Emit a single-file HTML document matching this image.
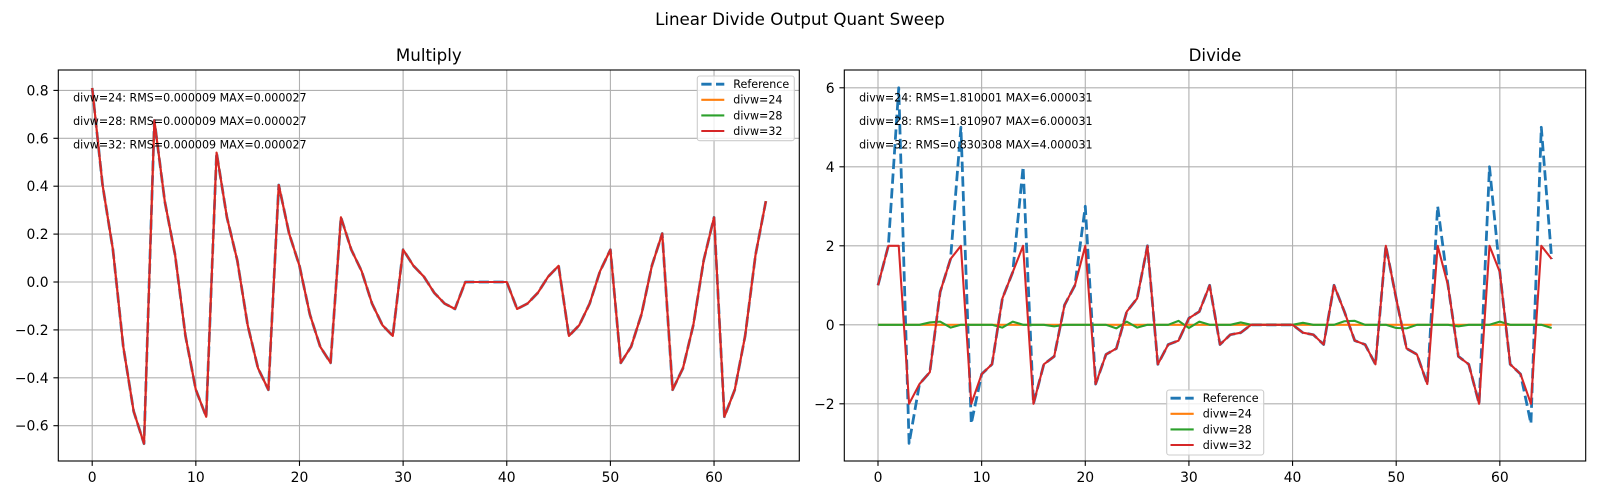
<!DOCTYPE html>
<html><head><meta charset="utf-8"><style>
html,body{margin:0;padding:0;background:#fff;}
svg{display:block;}
text{font-family:"DejaVu Sans","Liberation Sans",sans-serif;fill:#000;}
.tk{font-size:13.89px;}
.an{font-size:11.1px;}
.lg{font-size:11.1px;}
.ttl{font-size:16.67px;}
</style></head><body>
<svg width="1600" height="500" viewBox="0 0 1600 500" xmlns="http://www.w3.org/2000/svg">
<rect width="1600" height="500" fill="#fff"/>
<text class="ttl" x="800" y="25" text-anchor="middle">Linear Divide Output Quant Sweep</text>

<!-- ===== LEFT: Multiply ===== -->
<text class="ttl" x="428.8" y="61" text-anchor="middle">Multiply</text>
<g stroke="#b0b0b0" stroke-width="1.1" fill="none">
<line x1="92.2" y1="70" x2="92.2" y2="461"/>
<line x1="195.84" y1="70" x2="195.84" y2="461"/>
<line x1="299.48" y1="70" x2="299.48" y2="461"/>
<line x1="403.12" y1="70" x2="403.12" y2="461"/>
<line x1="506.76" y1="70" x2="506.76" y2="461"/>
<line x1="610.4" y1="70" x2="610.4" y2="461"/>
<line x1="714.04" y1="70" x2="714.04" y2="461"/>
<line x1="58.3" y1="90.4" x2="799.3" y2="90.4"/>
<line x1="58.3" y1="138.3" x2="799.3" y2="138.3"/>
<line x1="58.3" y1="186.2" x2="799.3" y2="186.2"/>
<line x1="58.3" y1="234.1" x2="799.3" y2="234.1"/>
<line x1="58.3" y1="282" x2="799.3" y2="282"/>
<line x1="58.3" y1="329.9" x2="799.3" y2="329.9"/>
<line x1="58.3" y1="377.8" x2="799.3" y2="377.8"/>
<line x1="58.3" y1="425.7" x2="799.3" y2="425.7"/>
</g>
<g fill="none" stroke-linejoin="round">
<polyline id="mul" stroke="#1f77b4" stroke-width="2.78" stroke-dasharray="10.28 4.44" points="92.2,88 102.56,185 112.93,249.67 123.29,346.67 133.66,411.33 144.02,443.66 154.38,120.34 164.75,201.17 175.11,255.06 185.48,335.89 195.84,389.78 206.2,416.72 216.57,152.67 226.93,217.33 237.3,260.44 247.66,325.11 258.02,368.22 268.39,389.78 278.75,185 289.12,233.5 299.48,265.83 309.84,314.33 320.21,346.67 330.57,362.83 340.94,217.33 351.3,249.67 361.66,271.22 372.03,303.56 382.39,325.11 392.76,335.89 403.12,249.67 413.48,265.83 423.85,276.61 434.21,292.78 444.58,303.56 454.94,308.94 465.3,282 475.67,282 486.03,282 496.4,282 506.76,282 517.12,308.94 527.49,303.56 537.85,292.78 548.22,276.61 558.58,265.83 568.94,335.89 579.31,325.11 589.67,303.56 600.04,271.22 610.4,249.67 620.76,362.83 631.13,346.67 641.49,314.33 651.86,265.83 662.22,233.5 672.58,389.78 682.95,368.22 693.31,325.11 703.68,260.44 714.04,217.33 724.4,416.72 734.77,389.78 745.13,335.89 755.5,255.06 765.86,201.17"/>
<polyline stroke="#ff7f0e" stroke-width="2.08" points="92.2,88 102.56,185 112.93,249.67 123.29,346.67 133.66,411.33 144.02,443.66 154.38,120.34 164.75,201.17 175.11,255.06 185.48,335.89 195.84,389.78 206.2,416.72 216.57,152.67 226.93,217.33 237.3,260.44 247.66,325.11 258.02,368.22 268.39,389.78 278.75,185 289.12,233.5 299.48,265.83 309.84,314.33 320.21,346.67 330.57,362.83 340.94,217.33 351.3,249.67 361.66,271.22 372.03,303.56 382.39,325.11 392.76,335.89 403.12,249.67 413.48,265.83 423.85,276.61 434.21,292.78 444.58,303.56 454.94,308.94 465.3,282 475.67,282 486.03,282 496.4,282 506.76,282 517.12,308.94 527.49,303.56 537.85,292.78 548.22,276.61 558.58,265.83 568.94,335.89 579.31,325.11 589.67,303.56 600.04,271.22 610.4,249.67 620.76,362.83 631.13,346.67 641.49,314.33 651.86,265.83 662.22,233.5 672.58,389.78 682.95,368.22 693.31,325.11 703.68,260.44 714.04,217.33 724.4,416.72 734.77,389.78 745.13,335.89 755.5,255.06 765.86,201.17"/>
<polyline stroke="#d62728" stroke-width="2.08" points="92.2,88 102.56,185 112.93,249.67 123.29,346.67 133.66,411.33 144.02,443.66 154.38,120.34 164.75,201.17 175.11,255.06 185.48,335.89 195.84,389.78 206.2,416.72 216.57,152.67 226.93,217.33 237.3,260.44 247.66,325.11 258.02,368.22 268.39,389.78 278.75,185 289.12,233.5 299.48,265.83 309.84,314.33 320.21,346.67 330.57,362.83 340.94,217.33 351.3,249.67 361.66,271.22 372.03,303.56 382.39,325.11 392.76,335.89 403.12,249.67 413.48,265.83 423.85,276.61 434.21,292.78 444.58,303.56 454.94,308.94 465.3,282 475.67,282 486.03,282 496.4,282 506.76,282 517.12,308.94 527.49,303.56 537.85,292.78 548.22,276.61 558.58,265.83 568.94,335.89 579.31,325.11 589.67,303.56 600.04,271.22 610.4,249.67 620.76,362.83 631.13,346.67 641.49,314.33 651.86,265.83 662.22,233.5 672.58,389.78 682.95,368.22 693.31,325.11 703.68,260.44 714.04,217.33 724.4,416.72 734.77,389.78 745.13,335.89 755.5,255.06 765.86,201.17"/>
</g>
<rect x="58.3" y="70" width="741" height="391" fill="none" stroke="#000" stroke-width="1.1"/>
<g stroke="#000" stroke-width="1.1">
<line x1="92.2" y1="461" x2="92.2" y2="465.9"/>
<line x1="195.84" y1="461" x2="195.84" y2="465.9"/>
<line x1="299.48" y1="461" x2="299.48" y2="465.9"/>
<line x1="403.12" y1="461" x2="403.12" y2="465.9"/>
<line x1="506.76" y1="461" x2="506.76" y2="465.9"/>
<line x1="610.4" y1="461" x2="610.4" y2="465.9"/>
<line x1="714.04" y1="461" x2="714.04" y2="465.9"/>
<line x1="53.4" y1="90.4" x2="58.3" y2="90.4"/>
<line x1="53.4" y1="138.3" x2="58.3" y2="138.3"/>
<line x1="53.4" y1="186.2" x2="58.3" y2="186.2"/>
<line x1="53.4" y1="234.1" x2="58.3" y2="234.1"/>
<line x1="53.4" y1="282" x2="58.3" y2="282"/>
<line x1="53.4" y1="329.9" x2="58.3" y2="329.9"/>
<line x1="53.4" y1="377.8" x2="58.3" y2="377.8"/>
<line x1="53.4" y1="425.7" x2="58.3" y2="425.7"/>
</g>
<g class="tk" text-anchor="middle">
<text class="tk" x="92.2" y="482">0</text>
<text class="tk" x="195.84" y="482">10</text>
<text class="tk" x="299.48" y="482">20</text>
<text class="tk" x="403.12" y="482">30</text>
<text class="tk" x="506.76" y="482">40</text>
<text class="tk" x="610.4" y="482">50</text>
<text class="tk" x="714.04" y="482">60</text>
</g>
<g text-anchor="end">
<text class="tk" x="48.6" y="95.4">0.8</text>
<text class="tk" x="48.6" y="143.3">0.6</text>
<text class="tk" x="48.6" y="191.2">0.4</text>
<text class="tk" x="48.6" y="239.1">0.2</text>
<text class="tk" x="48.6" y="287">0.0</text>
<text class="tk" x="48.6" y="334.9">−0.2</text>
<text class="tk" x="48.6" y="382.8">−0.4</text>
<text class="tk" x="48.6" y="430.7">−0.6</text>
</g>
<text class="an" x="73.1" y="101.7">divw=24: RMS=0.000009 MAX=0.000027</text>
<text class="an" x="73.1" y="125">divw=28: RMS=0.000009 MAX=0.000027</text>
<text class="an" x="73.1" y="148.3">divw=32: RMS=0.000009 MAX=0.000027</text>
<!-- legend left -->
<rect x="697.3" y="76" width="97" height="64.7" rx="2.5" fill="#fff" fill-opacity="0.8" stroke="#cccccc" stroke-width="1.1"/>
<line x1="701.3" y1="84.2" x2="724.3" y2="84.2" stroke="#1f77b4" stroke-width="2.78" stroke-dasharray="10.28 4.44"/>
<line x1="701.3" y1="99.8" x2="724.3" y2="99.8" stroke="#ff7f0e" stroke-width="2.08"/>
<line x1="701.3" y1="115.4" x2="724.3" y2="115.4" stroke="#2ca02c" stroke-width="2.08"/>
<line x1="701.3" y1="131" x2="724.3" y2="131" stroke="#d62728" stroke-width="2.08"/>
<text class="lg" x="733.3" y="88.1">Reference</text>
<text class="lg" x="733.3" y="103.7">divw=24</text>
<text class="lg" x="733.3" y="119.3">divw=28</text>
<text class="lg" x="733.3" y="134.9">divw=32</text>

<!-- ===== RIGHT: Divide ===== -->
<text class="ttl" x="1215" y="61" text-anchor="middle">Divide</text>
<g stroke="#b0b0b0" stroke-width="1.1" fill="none">
<line x1="878" y1="70" x2="878" y2="461"/>
<line x1="981.64" y1="70" x2="981.64" y2="461"/>
<line x1="1085.28" y1="70" x2="1085.28" y2="461"/>
<line x1="1188.92" y1="70" x2="1188.92" y2="461"/>
<line x1="1292.56" y1="70" x2="1292.56" y2="461"/>
<line x1="1396.2" y1="70" x2="1396.2" y2="461"/>
<line x1="1499.84" y1="70" x2="1499.84" y2="461"/>
<line x1="844.3" y1="87.8" x2="1585.7" y2="87.8"/>
<line x1="844.3" y1="166.8" x2="1585.7" y2="166.8"/>
<line x1="844.3" y1="245.8" x2="1585.7" y2="245.8"/>
<line x1="844.3" y1="324.8" x2="1585.7" y2="324.8"/>
<line x1="844.3" y1="403.8" x2="1585.7" y2="403.8"/>
</g>
<g fill="none" stroke-linejoin="round">
<polyline stroke="#1f77b4" stroke-width="2.78" stroke-dasharray="10.28 4.44" points="878,285.3 888.36,245.8 898.73,87.8 909.09,443.3 919.46,384.05 929.82,372.2 940.18,291.9 950.55,259 960.91,127.3 971.28,423.55 981.64,374.18 992,364.3 1002.37,298.5 1012.73,272.1 1023.1,166.8 1033.46,403.8 1043.82,364.3 1054.19,356.4 1064.55,305.05 1074.92,285.3 1085.28,206.3 1095.64,384.05 1106.01,354.43 1116.37,348.5 1126.74,311.63 1137.1,298.5 1147.46,245.8 1157.83,364.3 1168.19,344.55 1178.56,340.6 1188.92,318.2 1199.28,311.63 1209.65,285.3 1220.01,344.55 1230.38,334.68 1240.74,332.7 1251.1,324.8 1261.47,324.8 1271.83,324.8 1282.2,324.8 1292.56,324.8 1302.92,332.7 1313.29,334.68 1323.65,344.55 1334.02,285.3 1344.38,311.63 1354.74,340.6 1365.11,344.55 1375.47,364.3 1385.84,245.8 1396.2,298.5 1406.56,348.5 1416.93,354.43 1427.29,384.05 1437.66,206.3 1448.02,285.3 1458.38,356.4 1468.75,364.3 1479.11,403.8 1489.48,166.8 1499.84,272.1 1510.2,364.3 1520.57,374.18 1530.93,423.55 1541.3,127.3 1551.66,259"/>
<polyline stroke="#ff7f0e" stroke-width="2.08" points="878,324.8 1551.66,324.8"/>
<polyline stroke="#2ca02c" stroke-width="2.08" points="878,324.8 919.46,324.8 929.82,322.43 940.18,321.64 950.55,327.57 960.91,324.8 992,324.8 1002.37,327.57 1012.73,321.64 1023.1,324.8 1043.82,324.8 1054.19,326.38 1064.55,324.8 1106.01,324.8 1116.37,328.36 1126.74,321.64 1137.1,327.57 1147.46,324.8 1168.19,324.8 1178.56,320.85 1188.92,327.96 1199.28,321.64 1209.65,324.8 1230.38,324.8 1240.74,322.43 1251.1,324.8 1292.56,324.8 1302.92,322.83 1313.29,324.8 1334.02,324.8 1344.38,321.25 1354.74,320.85 1365.11,324.8 1385.84,324.8 1396.2,327.96 1406.56,328.36 1416.93,324.8 1448.02,324.8 1458.38,326.38 1468.75,324.8 1489.48,324.8 1499.84,321.64 1510.2,324.8 1541.3,324.8 1551.66,327.96"/>
<polyline stroke="#d62728" stroke-width="2.08" points="878,285.3 888.36,245.8 898.73,245.8 909.09,403.8 919.46,384.05 929.82,372.2 940.18,291.9 950.55,259 960.91,245.8 971.28,403.8 981.64,374.18 992,364.3 1002.37,298.5 1012.73,272.1 1023.1,245.8 1033.46,403.8 1043.82,364.3 1054.19,356.4 1064.55,305.05 1074.92,285.3 1085.28,245.8 1095.64,384.05 1106.01,354.43 1116.37,348.5 1126.74,311.63 1137.1,298.5 1147.46,245.8 1157.83,364.3 1168.19,344.55 1178.56,340.6 1188.92,318.2 1199.28,311.63 1209.65,285.3 1220.01,344.55 1230.38,334.68 1240.74,332.7 1251.1,324.8 1261.47,324.8 1271.83,324.8 1282.2,324.8 1292.56,324.8 1302.92,332.7 1313.29,334.68 1323.65,344.55 1334.02,285.3 1344.38,311.63 1354.74,340.6 1365.11,344.55 1375.47,364.3 1385.84,245.8 1396.2,298.5 1406.56,348.5 1416.93,354.43 1427.29,384.05 1437.66,245.8 1448.02,285.3 1458.38,356.4 1468.75,364.3 1479.11,403.8 1489.48,245.8 1499.84,272.1 1510.2,364.3 1520.57,374.18 1530.93,403.8 1541.3,245.8 1551.66,259"/>
</g>
<rect x="844.3" y="70" width="741.4" height="391" fill="none" stroke="#000" stroke-width="1.1"/>
<g stroke="#000" stroke-width="1.1">
<line x1="878" y1="461" x2="878" y2="465.9"/>
<line x1="981.64" y1="461" x2="981.64" y2="465.9"/>
<line x1="1085.28" y1="461" x2="1085.28" y2="465.9"/>
<line x1="1188.92" y1="461" x2="1188.92" y2="465.9"/>
<line x1="1292.56" y1="461" x2="1292.56" y2="465.9"/>
<line x1="1396.2" y1="461" x2="1396.2" y2="465.9"/>
<line x1="1499.84" y1="461" x2="1499.84" y2="465.9"/>
<line x1="839.4" y1="87.8" x2="844.3" y2="87.8"/>
<line x1="839.4" y1="166.8" x2="844.3" y2="166.8"/>
<line x1="839.4" y1="245.8" x2="844.3" y2="245.8"/>
<line x1="839.4" y1="324.8" x2="844.3" y2="324.8"/>
<line x1="839.4" y1="403.8" x2="844.3" y2="403.8"/>
</g>
<g text-anchor="middle">
<text class="tk" x="878" y="482">0</text>
<text class="tk" x="981.64" y="482">10</text>
<text class="tk" x="1085.28" y="482">20</text>
<text class="tk" x="1188.92" y="482">30</text>
<text class="tk" x="1292.56" y="482">40</text>
<text class="tk" x="1396.2" y="482">50</text>
<text class="tk" x="1499.84" y="482">60</text>
</g>
<g text-anchor="end">
<text class="tk" x="834.6" y="92.8">6</text>
<text class="tk" x="834.6" y="171.8">4</text>
<text class="tk" x="834.6" y="250.8">2</text>
<text class="tk" x="834.6" y="329.8">0</text>
<text class="tk" x="834.6" y="408.8">−2</text>
</g>
<text class="an" x="859.1" y="101.7">divw=24: RMS=1.810001 MAX=6.000031</text>
<text class="an" x="859.1" y="125">divw=28: RMS=1.810907 MAX=6.000031</text>
<text class="an" x="859.1" y="148.3">divw=32: RMS=0.830308 MAX=4.000031</text>
<!-- legend right -->
<rect x="1166.7" y="390" width="97" height="65" rx="2.5" fill="#fff" fill-opacity="0.8" stroke="#cccccc" stroke-width="1.1"/>
<line x1="1170.5" y1="398.2" x2="1193.7" y2="398.2" stroke="#1f77b4" stroke-width="2.78" stroke-dasharray="10.28 4.44"/>
<line x1="1170.5" y1="413.8" x2="1193.7" y2="413.8" stroke="#ff7f0e" stroke-width="2.08"/>
<line x1="1170.5" y1="429.4" x2="1193.7" y2="429.4" stroke="#2ca02c" stroke-width="2.08"/>
<line x1="1170.5" y1="445" x2="1193.7" y2="445" stroke="#d62728" stroke-width="2.08"/>
<text class="lg" x="1202.7" y="402.1">Reference</text>
<text class="lg" x="1202.7" y="417.7">divw=24</text>
<text class="lg" x="1202.7" y="433.3">divw=28</text>
<text class="lg" x="1202.7" y="448.9">divw=32</text>
</svg>
</body></html>
